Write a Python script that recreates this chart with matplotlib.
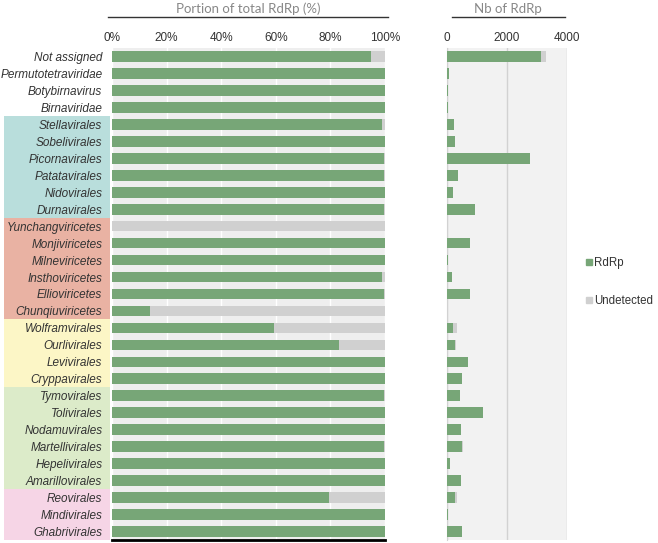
import matplotlib
matplotlib.use("Agg")
import matplotlib.pyplot as plt
import matplotlib.transforms as mtransforms
from matplotlib.lines import Line2D
from matplotlib.patches import Rectangle
import numpy as np

plt.rcParams['font.family'] = ['Liberation Sans', 'DejaVu Sans']

taxa = ['Not assigned', 'Permutotetraviridae', 'Botybirnavirus', 'Birnaviridae',
        'Stellavirales', 'Sobelivirales', 'Picornavirales', 'Patatavirales', 'Nidovirales', 'Durnavirales',
        'Yunchangviricetes', 'Monjiviricetes', 'Milneviricetes', 'Insthoviricetes', 'Ellioviricetes', 'Chunqiuviricetes',
        'Wolframvirales', 'Ourlivirales', 'Levivirales', 'Cryppavirales',
        'Tymovirales', 'Tolivirales', 'Nodamuvirales', 'Martellivirales', 'Hepelivirales', 'Amarillovirales',
        'Reovirales', 'Mindivirales', 'Ghabrivirales']

# portion of RdRp detected (%)
pct_rdrp = [95, 100, 100, 100,
            99, 100, 99.5, 99.5, 100, 99.5,
            0, 100, 100, 99, 99.5, 14,
            59.5, 83, 100, 100,
            99.5, 100, 100, 99.5, 100, 100,
            79.5, 100, 100]

# number of RdRp
nb_rdrp = [3140, 60, 20, 25,
           225, 280, 2760, 350, 200, 940,
           0, 775, 35, 160, 775, 2,
           200, 255, 705, 505,
           425, 1210, 470, 515, 115, 470,
           260, 45, 505]
nb_undet = [165, 0, 0, 0,
            2, 0, 10, 2, 0, 5,
            8, 0, 0, 2, 4, 12,
            135, 52, 0, 0,
            2, 0, 0, 3, 0, 0,
            67, 0, 0]

# label background groups: (first row, last row, colour)
groups = [(4, 9, '#b9dedc'), (10, 15, '#e9b2a3'), (16, 19, '#fcf6c6'),
          (20, 25, '#dcebc9'), (26, 28, '#f6d5e6')]

green = '#77a677'
grey = '#d0d0d0'
W, H = 658, 543

fig = plt.figure(figsize=(W / 100, H / 100), dpi=100)
ax1 = fig.add_axes([112 / W, 3 / H, 273 / W, 492 / H])
ax2 = fig.add_axes([447 / W, 3 / H, 120 / W, 492 / H])

y = np.arange(len(taxa))
pct = np.array(pct_rdrp) / 100.0
bh = 0.63

ax1.set_facecolor('#eeeeee')
ax1.barh(y, pct, height=bh, color=green, zorder=3)
ax1.barh(y, 1 - pct, left=pct, height=bh, color=grey, zorder=3)
ax1.set_xlim(0, 1)
ax1.set_ylim(len(taxa) - 0.5, -0.5)
ax1.set_xticks(np.arange(0, 1.01, 0.2))
ax1.set_xticklabels(['%d%%' % v for v in range(0, 101, 20)])
ax1.xaxis.tick_top()
ax1.tick_params(axis='x', length=0, pad=3, labelsize=8.5, colors='#333333')
ax1.set_yticks(y)
ax1.set_yticklabels(taxa, fontstyle='italic', fontsize=8.5, color='#333333')
ax1.tick_params(axis='y', length=0, pad=7)
ax1.grid(axis='x', color='white', lw=1, zorder=1)
for s in ['top', 'left', 'right']:
    ax1.spines[s].set_visible(False)
ax1.spines['bottom'].set_color('black')
ax1.spines['bottom'].set_linewidth(2)

ax2.set_facecolor('#f2f2f2')
ax2.barh(y, nb_rdrp, height=bh, color=green, zorder=3)
ax2.barh(y, nb_undet, left=nb_rdrp, height=bh, color=grey, zorder=3)
ax2.set_xlim(0, 4000)
ax2.set_ylim(len(taxa) - 0.5, -0.5)
ax2.set_xticks([0, 2000, 4000])
ax2.xaxis.tick_top()
ax2.tick_params(axis='x', length=0, pad=3, labelsize=8.5, colors='#333333')
ax2.set_yticks([])
ax2.grid(axis='x', color='#d2d2d2', lw=1, zorder=1)
for s in ['top', 'right', 'bottom']:
    ax2.spines[s].set_visible(False)
ax2.spines['left'].set_color('#d2d2d2')

# coloured bands behind labels
tr = mtransforms.blended_transform_factory(fig.transFigure, ax1.transData)
for a, b, c in groups:
    ax1.add_patch(Rectangle((4 / W, a - 0.5), 106 / W, b - a + 1, transform=tr,
                            facecolor=c, edgecolor='none', clip_on=False, zorder=0))

# panel titles with rule below
fig.text(248 / W, 1 - 9 / H, 'Portion of total RdRp (%)', ha='center', va='center',
         fontsize=9.5, color='#888888', family=['Lato', 'DejaVu Sans'])
fig.add_artist(Line2D([108 / W, 388 / W], [1 - 17 / H, 1 - 17 / H], color='#333333', lw=1))
fig.text(508 / W, 1 - 9 / H, 'Nb of RdRp', ha='center', va='center',
         fontsize=9.5, color='#888888', family=['Lato', 'DejaVu Sans'])
fig.add_artist(Line2D([452 / W, 565 / W], [1 - 17 / H, 1 - 17 / H], color='#333333', lw=1))

handles = [Line2D([], [], marker='s', ls='none', color=green, markersize=4),
           Line2D([], [], marker='s', ls='none', color=grey, markersize=4)]
fig.legend(handles, ['RdRp', 'Undetected'], loc='center left',
           bbox_to_anchor=(584 / W, 1 - 282 / H), frameon=False, fontsize=8.3,
           labelspacing=2.2, handletextpad=0.1, handlelength=0.8,
           borderpad=0, borderaxespad=0, labelcolor='#333333')

fig.savefig('out.png', dpi=100)
